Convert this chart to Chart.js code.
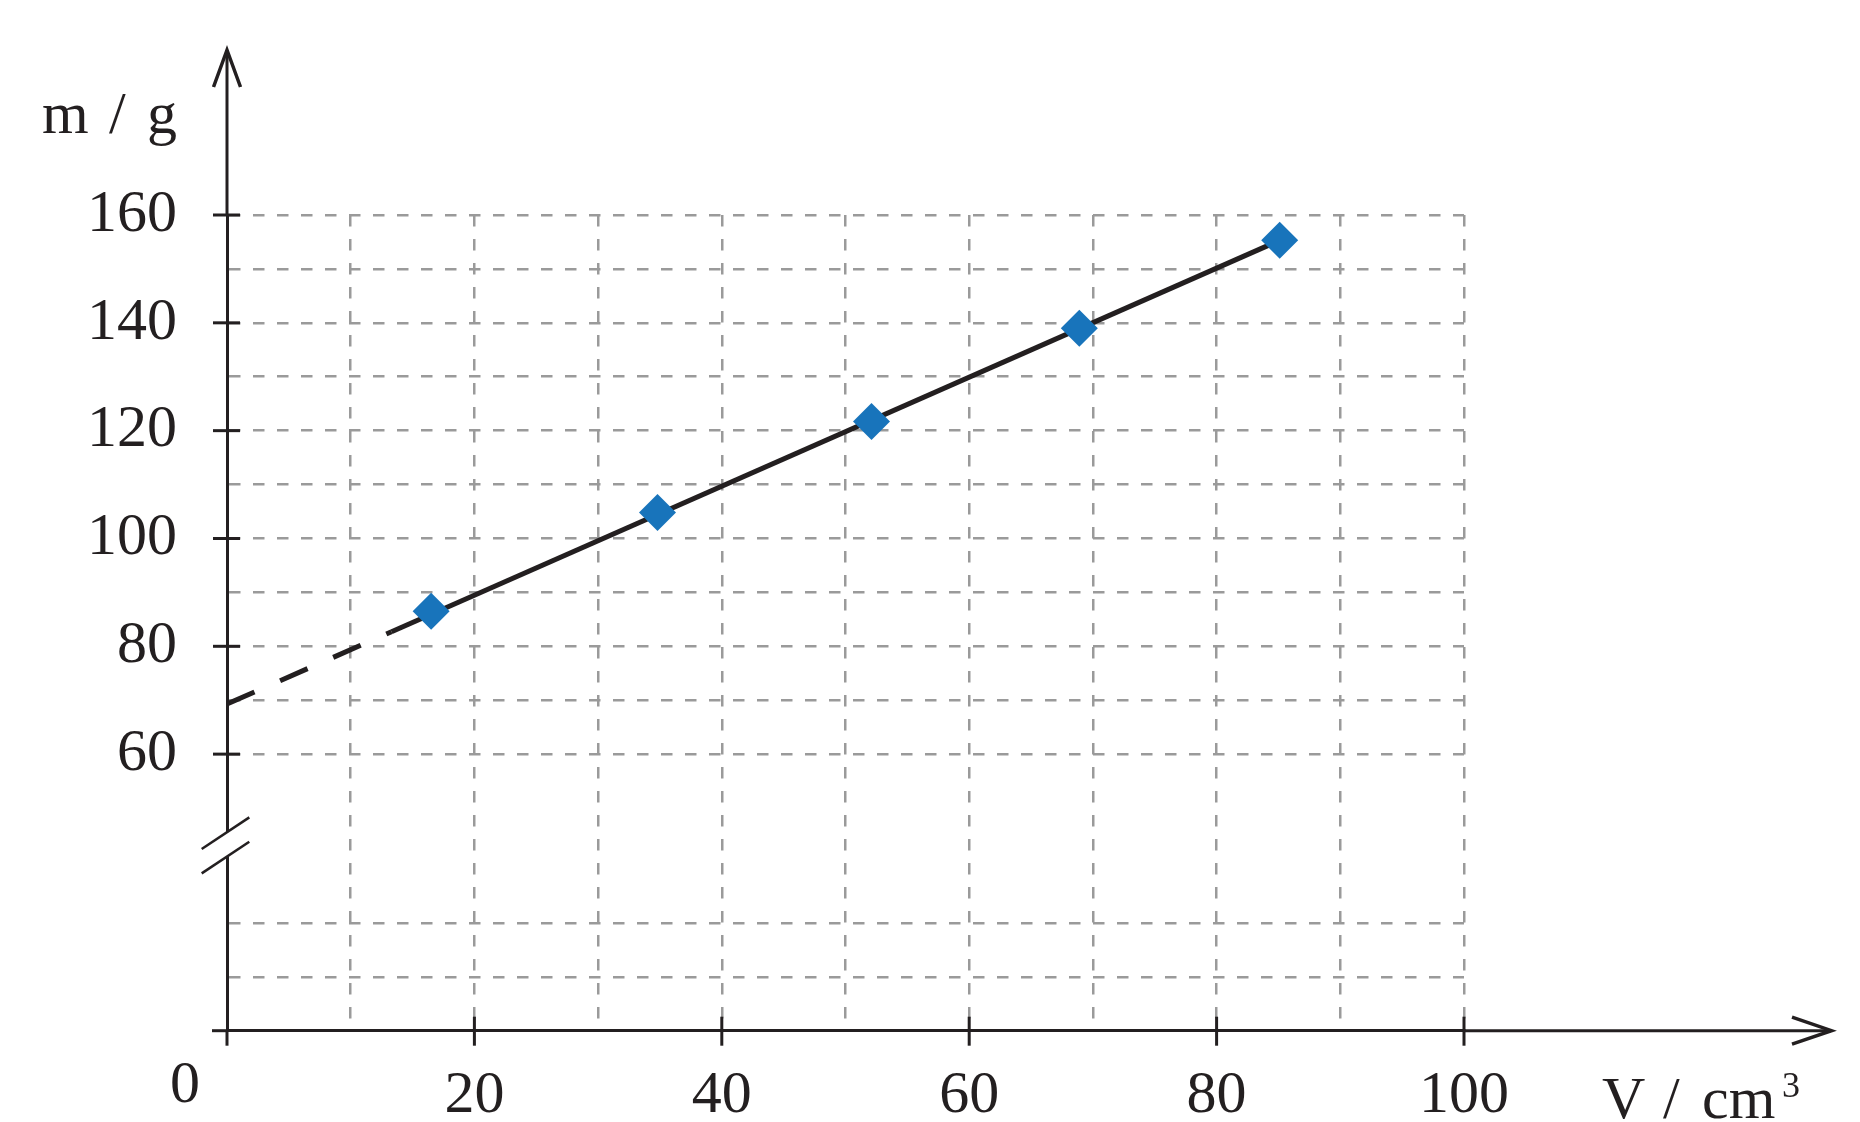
<!DOCTYPE html>
<html>
<head>
<meta charset="utf-8">
<style>
  html, body { margin: 0; padding: 0; background: #fff; }
  #contenedor { width: 1860px; height: 1122px; }
</style>
<script src="https://cdn.jsdelivr.net/npm/chart.js@4/dist/chart.umd.min.js"></script>
</head>
<body>
<div id="contenedor"><canvas id="grafica"></canvas></div>
<script>
// medidas: volumen en cm3, masa en g
const volumen = [16.5, 34.8, 52.1, 68.9, 85.1];
const masa = [86.5, 104.8, 121.7, 139.0, 155.3];

// recta de ajuste: tramo discontinuo (extrapolado) y tramo continuo
const trazosV = [0, 13.3];
const trazosM = [69.3, 82.7];
const rectaV = [13.3, 85.1];
const rectaM = [82.7, 155.3];

const etiquetasX = [20, 40, 60, 80, 100];
const etiquetasY = [60, 80, 100, 120, 140, 160];

const negro = "#231f20";
const gris = "#9a9a9a";
const azul = "#1874bb";
const fuente = "'Liberation Serif', 'Times New Roman', serif";

Chart.defaults.color = negro;
Chart.defaults.font.family = fuente;

function puntos(xs, ys) {
    return xs.map((x, i) => ({ x: x, y: ys[i] }));
}

function linea(ctx, x1, y1, x2, y2) {
    ctx.beginPath();
    ctx.moveTo(x1, y1);
    ctx.lineTo(x2, y2);
    ctx.stroke();
}

// flechas, marcas, corte del eje y rótulos
const ejes = {
    id: "ejes",
    afterDraw(chart) {
        const { ctx, chartArea: area, scales } = chart;
        const x0 = scales.x.getPixelForValue(0);
        const y0 = scales.yBajo.getPixelForValue(0);
        const corte = scales.yBajo.top;

        ctx.save();
        ctx.strokeStyle = negro;
        ctx.lineWidth = 3;

        // prolongación del eje y con flecha
        linea(ctx, x0, area.top, x0, 50);
        linea(ctx, x0, y0, x0, y0 + 15);
        // prolongación del eje x con flecha
        linea(ctx, x0 - 15, y0, x0, y0);
        linea(ctx, area.right, y0, 1831, y0);

        ctx.lineWidth = 3.5;
        ctx.beginPath();
        ctx.moveTo(x0 - 13.5, 87);
        ctx.lineTo(x0, 50);
        ctx.lineTo(x0 + 13.5, 87);
        ctx.stroke();
        ctx.beginPath();
        ctx.moveTo(1792, y0 - 13.5);
        ctx.lineTo(1831.5, y0);
        ctx.lineTo(1792, y0 + 13.5);
        ctx.stroke();

        ctx.lineWidth = 3;
        etiquetasY.forEach((v) => {
            const py = scales.yAlto.getPixelForValue(v);
            linea(ctx, x0 - 14, py, x0 + 13, py);
        });
        etiquetasX.forEach((v) => {
            const px = scales.x.getPixelForValue(v);
            linea(ctx, px, y0 - 14, px, y0 + 15);
        });

        // corte del eje
        ctx.fillStyle = "#fff";
        ctx.fillRect(x0 - 4, corte - 11, 8, 24.5);
        ctx.lineWidth = 2.5;
        linea(ctx, x0 - 25.3, corte + 6, x0 + 22.3, corte - 25.7);
        linea(ctx, x0 - 25.3, corte + 30.3, x0 + 22.3, corte - 1.3);

        // rótulos
        ctx.fillStyle = negro;
        ctx.textBaseline = "alphabetic";
        ctx.textAlign = "left";
        ctx.font = "60px " + fuente;
        ctx.fillText("m", 42, 133);
        ctx.fillText("/", 109, 133);
        ctx.fillText("g", 147, 133);

        ctx.fillText("V", 1602, 1118);
        ctx.fillText("/", 1663, 1118);
        ctx.fillText("cm", 1702, 1118);
        ctx.font = "36px " + fuente;
        ctx.fillText("3", 1782, 1097);

        ctx.font = "60px " + fuente;
        ctx.textAlign = "center";
        ctx.fillText("0", x0 - 42, 1102);
        ctx.restore();
    }
};

const rejilla = { color: gris, lineWidth: 2.5, drawTicks: false };
const borde = { display: true, color: negro, width: 3, dash: [11.5, 12.5] };

new Chart(document.querySelector("#grafica"), {
    type: "scatter",
    data: {
        datasets: [
            {
                label: "Medidas",
                data: puntos(volumen, masa),
                yAxisID: "yAlto",
                pointStyle: "rectRot",
                pointRadius: 18.5,
                pointBackgroundColor: azul,
                pointBorderWidth: 0
            },
            {
                label: "Ajuste",
                type: "line",
                data: puntos(rectaV, rectaM),
                yAxisID: "yAlto",
                borderColor: negro,
                borderWidth: 5,
                pointRadius: 0,
                fill: false
            },
            {
                label: "Extrapolación",
                type: "line",
                data: puntos(trazosV, trazosM),
                yAxisID: "yAlto",
                borderColor: negro,
                borderWidth: 5,
                borderDash: [30, 28],
                pointRadius: 0,
                fill: false
            }
        ]
    },
    options: {
        responsive: true,
        maintainAspectRatio: false,
        animation: false,
        events: [],
        layout: { padding: { left: 0, top: 215, right: 396, bottom: 0 } },
        plugins: {
            legend: { display: false },
            tooltip: { enabled: false }
        },
        scales: {
            x: {
                type: "linear",
                position: "bottom",
                min: 0,
                max: 100,
                grid: rejilla,
                border: borde,
                ticks: {
                    stepSize: 10,
                    autoSkip: false,
                    maxRotation: 0,
                    padding: 30,
                    font: { size: 60 },
                    callback: (v) => (etiquetasX.includes(v) ? String(v) : "")
                },
                afterFit: (escala) => { escala.height = 91.3; }
            },
            // en la pila de ejes el primero queda abajo
            yBajo: {
                type: "linear",
                position: "left",
                stack: "m",
                stackWeight: 34.8,
                min: 0,
                max: 34.8,
                grid: rejilla,
                border: borde,
                ticks: {
                    stepSize: 10,
                    autoSkip: false,
                    padding: 50,
                    font: { size: 60 },
                    callback: () => ""
                },
                afterBuildTicks: (escala) => {
                    escala.ticks = escala.ticks.filter((t) => t.value <= 20);
                },
                afterFit: (escala) => { escala.width = 227; }
            },
            yAlto: {
                type: "linear",
                position: "left",
                stack: "m",
                stackWeight: 116.5,
                min: 43.5,
                max: 160,
                grid: rejilla,
                border: borde,
                ticks: {
                    stepSize: 10,
                    autoSkip: false,
                    padding: 50,
                    font: { size: 60 },
                    callback: (v) => (etiquetasY.includes(v) ? String(v) : "")
                },
                afterBuildTicks: (escala) => {
                    escala.ticks = escala.ticks.filter((t) => t.value >= 60);
                },
                afterFit: (escala) => { escala.width = 227; }
            }
        }
    },
    plugins: [ejes]
});
</script>
</body>
</html>
